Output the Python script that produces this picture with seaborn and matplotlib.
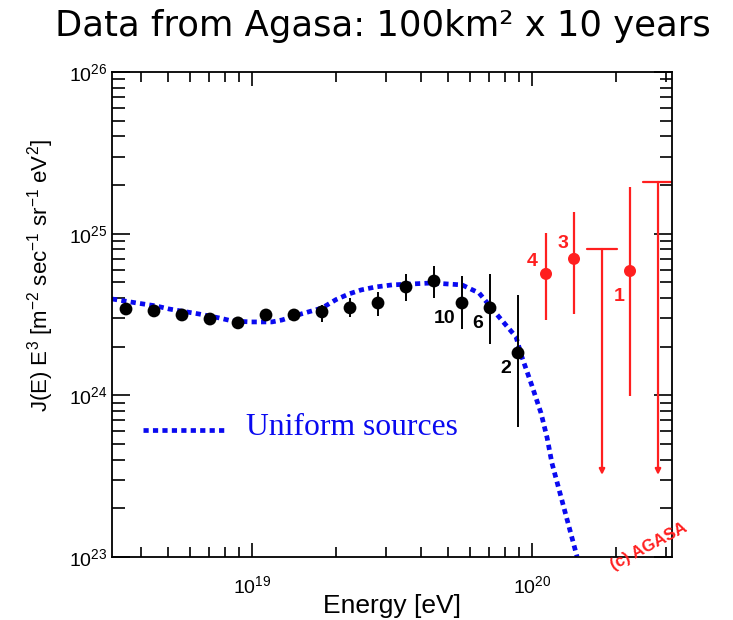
import numpy as np
import pandas as pd
import seaborn as sns
import matplotlib.pyplot as plt
from matplotlib.ticker import LogLocator, NullFormatter

# AGASA spectrum, log10 values
log_e = [18.55, 18.65, 18.75, 18.85, 18.95, 19.05, 19.15, 19.25,
         19.35, 19.45, 19.55, 19.65, 19.75, 19.85, 19.95]
log_j = [24.534, 24.522, 24.497, 24.472, 24.448, 24.497, 24.497, 24.516,
         24.541, 24.571, 24.670, 24.707, 24.571, 24.541, 24.262]
log_j_hi = [24.55, 24.54, 24.515, 24.49, 24.465, 24.515, 24.52, 24.559,
            24.602, 24.640, 24.751, 24.800, 24.738, 24.751, 24.621]
log_j_lo = [24.52, 24.505, 24.48, 24.455, 24.43, 24.48, 24.475, 24.454,
            24.485, 24.491, 24.584, 24.602, 24.411, 24.318, 23.805]
counts = ["", "", "", "", "", "", "", "", "", "", "", "", "10", "6", "2"]

# highest energy events (red)
red_log_e = [20.05, 20.15, 20.35]
red_log_j = [24.751, 24.844, 24.769]
red_log_j_hi = [25.004, 25.134, 25.289]
red_log_j_lo = [24.466, 24.503, 23.996]
red_counts = ["4", "3", "1"]

# upper limits
lim_log_e = [20.25, 20.45]
lim_log_j = [24.905, 25.320]
lim_log_tip = [23.508, 23.508]

# uniform sources model
model_log_e = [18.50, 18.589, 18.657, 18.704, 18.811, 18.882, 18.929, 18.996,
               19.071, 19.107, 19.179, 19.250, 19.300, 19.346, 19.390, 19.440,
               19.500, 19.643, 19.750, 19.811, 19.882, 19.943, 19.964, 20.000,
               20.032, 20.054, 20.071, 20.161]
model_log_j = [24.596, 24.571, 24.553, 24.534, 24.503, 24.479, 24.460, 24.454,
               24.454, 24.466, 24.505, 24.540, 24.592, 24.627, 24.652, 24.670,
               24.683, 24.695, 24.683, 24.633, 24.485, 24.361, 24.237, 24.058,
               23.891, 23.737, 23.582, 23.001]

sns.set_style("ticks")
plt.rcParams["font.family"] = ["Liberation Sans", "DejaVu Sans"]
plt.rcParams["mathtext.fontset"] = "custom"
plt.rcParams["mathtext.rm"] = "Liberation Sans"
plt.rcParams["mathtext.it"] = "Liberation Sans"
for k in ["text.color", "axes.labelcolor", "xtick.color", "ytick.color", "axes.edgecolor"]:
    plt.rcParams[k] = "black"

data = pd.DataFrame({"E": 10 ** np.array(log_e), "J": 10 ** np.array(log_j)})
red = pd.DataFrame({"E": 10 ** np.array(red_log_e), "J": 10 ** np.array(red_log_j)})
model = pd.DataFrame({"E": 10 ** np.array(model_log_e), "J": 10 ** np.array(model_log_j)})

fig = plt.figure(figsize=(7.33, 6.2), dpi=100)
ax = fig.add_axes([0.1528, 0.1016, 0.764, 0.7823])
ax.set_xscale("log")
ax.set_yscale("log")

blue = "#0a0af0"
rcol = "#ff1f1f"

sns.lineplot(data=model, x="E", y="J", ax=ax, color=blue, lw=3.4,
             linestyle=(0, (1.1, 0.9)), estimator=None, sort=False, zorder=2)

ax.errorbar(data["E"], data["J"],
            yerr=[data["J"] - 10 ** np.array(log_j_lo), 10 ** np.array(log_j_hi) - data["J"]],
            fmt="none", ecolor="black", elinewidth=1.4, zorder=3)
sns.scatterplot(data=data, x="E", y="J", ax=ax, color="black", s=85,
                edgecolor="none", zorder=4)

ax.errorbar(red["E"], red["J"],
            yerr=[red["J"] - 10 ** np.array(red_log_j_lo), 10 ** np.array(red_log_j_hi) - red["J"]],
            fmt="none", ecolor=rcol, elinewidth=1.6, zorder=3)
sns.scatterplot(data=red, x="E", y="J", ax=ax, color=rcol, s=75,
                edgecolor="none", zorder=4)

for le, lj, lt in zip(lim_log_e, lim_log_j, lim_log_tip):
    ax.plot([10 ** (le - 0.052), 10 ** (le + 0.052)], [10 ** lj, 10 ** lj],
            color=rcol, lw=1.6)
    ax.annotate("", xy=(10 ** le, 10 ** lt), xytext=(10 ** le, 10 ** lj),
                arrowprops=dict(arrowstyle="-|>", color=rcol, lw=1.6,
                                mutation_scale=8, shrinkA=0, shrinkB=0))

# event counts
for le, lj, c in zip(log_e, log_j, counts):
    if c:
        ax.annotate(c, (10 ** le, 10 ** lj), xytext=(-5, -11),
                    textcoords="offset points", ha="right", va="center",
                    fontsize=14, fontweight="bold", color="black")
for le, lj, c, off in zip(red_log_e, red_log_j, red_counts,
                          [(-6, 9), (-4, 11), (-4, -18)]):
    ax.annotate(c, (10 ** le, 10 ** lj), xytext=off,
                textcoords="offset points", ha="right", va="center",
                fontsize=14, fontweight="bold", color=rcol)

# legend drawn by hand like the original
ax.plot([10 ** 18.612, 10 ** 18.916], [10 ** 23.786, 10 ** 23.786], color=blue,
        lw=3.4, linestyle=(0, (1.1, 0.9)))
ax.text(10 ** 18.98, 10 ** 23.80, "Uniform sources", color=blue,
        fontsize=22.8, family="Liberation Serif", va="center", ha="left")

ax.text(10 ** 20.418, 10 ** 23.062, "(c) AGASA", color=rcol, fontsize=12,
        fontweight="bold", rotation=28, ha="center", va="center")

ax.set_xlim(10 ** 18.5, 10 ** 20.5)
ax.set_ylim(1e23, 1e26)

for a in (ax.xaxis, ax.yaxis):
    a.set_major_locator(LogLocator(base=10, numticks=10))
    a.set_minor_locator(LogLocator(base=10, subs=np.arange(2, 10), numticks=20))
    a.set_minor_formatter(NullFormatter())

ax.tick_params(which="both", direction="in", top=True, right=True, width=1.2,
               labelsize=14, color="black")
ax.tick_params(axis="x", which="major", length=10, pad=13)
ax.tick_params(axis="x", which="minor", length=7)
ax.tick_params(axis="y", which="major", length=13, pad=3)
ax.tick_params(axis="y", which="minor", length=9)
for s in ax.spines.values():
    s.set_linewidth(1.3)

ax.set_xlabel("Energy [eV]", fontsize=19)
ax.set_ylabel(r"J(E) E$^3$ [m$^{-2}$ sec$^{-1}$ sr$^{-1}$ eV$^2$]", fontsize=16)
ax.xaxis.set_label_coords(0.5, -0.077)
ax.yaxis.set_label_coords(-0.1, 0.58)

fig.text(0.522, 0.958, "Data from Agasa: 100km² x 10 years", fontsize=25.5,
         ha="center", va="center", family="DejaVu Sans")

fig.savefig("out.png", dpi=100)
